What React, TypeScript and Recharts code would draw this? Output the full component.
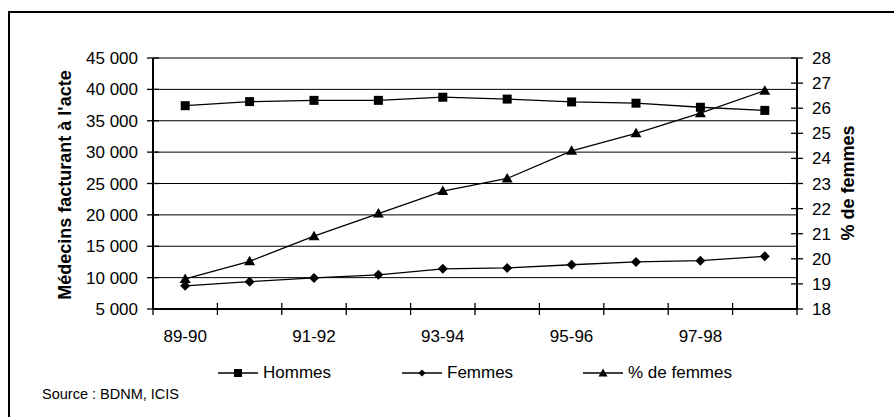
import { LineChart, Line, XAxis, YAxis, CartesianGrid } from 'recharts'

// Médecins facturant à l'acte, hommes / femmes, 1989-90 à 1998-99
const periodes = ['89-90', '90-91', '91-92', '92-93', '93-94', '94-95', '95-96', '96-97', '97-98', '98-99']
const hommes = [37400, 38050, 38250, 38250, 38750, 38450, 38000, 37800, 37150, 36650]
const femmes = [8700, 9350, 9950, 10450, 11400, 11550, 12050, 12500, 12700, 13400]
const pctFemmes = [19.2, 19.9, 20.9, 21.8, 22.7, 23.2, 24.3, 25.0, 25.8, 26.7]

const medecinsTicks = [5000, 10000, 15000, 20000, 25000, 30000, 35000, 40000, 45000]
const pctTicks = [18, 19, 20, 21, 22, 23, 24, 25, 26, 27, 28]

const data = periodes.map((p, i) => ({
  x: i + 0.5,
  periode: p,
  hommes: hommes[i],
  femmes: femmes[i],
  pct: pctFemmes[i],
}))

// ticks at category boundaries (marks) + centres of every other category (labels)
const xTicks: number[] = []
for (let i = 0; i <= periodes.length; i++) {
  xTicks.push(i)
  if (i < periodes.length && i % 2 === 0) xTicks.push(i + 0.5)
}

const FONT = '"Liberation Sans", Arial, sans-serif'
const TICK_SIZE = 6
const TICK_MARGIN = 9

const fmt = (n: number) => String(n).replace(/\B(?=(\d{3})+(?!\d))/g, ' ')

function XTick(props: any) {
  const { x, y, payload } = props
  const v = payload.value as number
  const axisY = y - TICK_SIZE
  if (Number.isInteger(v)) {
    return <line x1={x} x2={x} y1={axisY - 6} y2={axisY + 6} stroke="#000" strokeWidth={1.3} />
  }
  return (
    <text x={x} y={axisY + 33} textAnchor="middle" fontSize={17} fill="#000">
      {periodes[Math.floor(v)]}
    </text>
  )
}

function LeftTick(props: any) {
  const { x, y, payload } = props
  const ax = x + TICK_MARGIN + TICK_SIZE
  return (
    <g>
      <line x1={ax - 6} x2={ax + 6} y1={y} y2={y} stroke="#000" strokeWidth={1.3} />
      <text x={x} y={y} dy={6} textAnchor="end" fontSize={17} fill="#000">
        {fmt(payload.value)}
      </text>
    </g>
  )
}

function RightTick(props: any) {
  const { x, y, payload } = props
  const ax = x - TICK_MARGIN - TICK_SIZE
  return (
    <g>
      <line x1={ax - 6} x2={ax + 6} y1={y} y2={y} stroke="#000" strokeWidth={1.3} />
      <text x={x} y={y} dy={6} textAnchor="start" fontSize={17} fill="#000">
        {payload.value}
      </text>
    </g>
  )
}

const squareDot = (p: any) => (
  <rect key={`s${p.index}`} x={p.cx - 4.5} y={p.cy - 4.5} width={9} height={9} fill="#000" />
)
const diamondDot = (p: any) => (
  <path key={`d${p.index}`} d={`M${p.cx},${p.cy - 5}L${p.cx + 5},${p.cy}L${p.cx},${p.cy + 5}L${p.cx - 5},${p.cy}Z`} fill="#000" />
)
const triangleDot = (p: any) => (
  <path key={`t${p.index}`} d={`M${p.cx},${p.cy - 5.5}L${p.cx + 5.5},${p.cy + 4}L${p.cx - 5.5},${p.cy + 4}Z`} fill="#000" />
)

function LegendIcon({ kind }: { kind: 'square' | 'diamond' | 'triangle' }) {
  return (
    <svg width={40} height={12} style={{ display: 'block' }}>
      <line x1={0} x2={40} y1={6} y2={6} stroke="#000" strokeWidth={1.3} />
      {kind === 'square' && <rect x={16} y={2} width={8} height={8} fill="#000" />}
      {kind === 'diamond' && <path d="M20,2.5L23.5,6L20,9.5L16.5,6Z" fill="#000" />}
      {kind === 'triangle' && <path d="M20,1.5L24.5,9.5L15.5,9.5Z" fill="#000" />}
    </svg>
  )
}

const legendItems = [
  { label: 'Hommes', kind: 'square' as const, left: 218 },
  { label: 'Femmes', kind: 'diamond' as const, left: 402 },
  { label: '% de femmes', kind: 'triangle' as const, left: 583 },
]

export default function App() {
  return (
    <div style={{ position: 'fixed', left: 0, top: 0, width: 894, height: 417, fontFamily: FONT, color: '#000', background: '#fff' }}>
      {/* cadre */}
      <div
        style={{
          position: 'absolute', left: 8, top: 11, width: 886, height: 406,
          borderLeft: '2px solid #000', borderTop: '2px solid #000', boxSizing: 'border-box',
        }}
      />
      <LineChart width={894} height={417} data={data} margin={{ top: 58, right: 0, bottom: 68, left: 0 }}>
        <CartesianGrid yAxisId="left" vertical={false} stroke="#000" strokeWidth={1} />
        <XAxis
          dataKey="x"
          type="number"
          domain={[0, periodes.length]}
          ticks={xTicks}
          interval={0}
          height={40}
          axisLine={{ stroke: '#000', strokeWidth: 2 }}
          tickLine={false}
          tickSize={TICK_SIZE}
          tickMargin={0}
          tick={<XTick />}
        />
        <YAxis
          yAxisId="left"
          domain={[5000, 45000]}
          ticks={medecinsTicks}
          interval={0}
          width={153}
          axisLine={{ stroke: '#000', strokeWidth: 2 }}
          tickLine={false}
          tickSize={TICK_SIZE}
          tickMargin={TICK_MARGIN}
          tick={<LeftTick />}
        />
        <YAxis
          yAxisId="right"
          orientation="right"
          domain={[18, 28]}
          ticks={pctTicks}
          interval={0}
          width={97}
          axisLine={{ stroke: '#000', strokeWidth: 2 }}
          tickLine={false}
          tickSize={TICK_SIZE}
          tickMargin={TICK_MARGIN}
          tick={<RightTick />}
        />
        <Line yAxisId="left" dataKey="hommes" name="Hommes" stroke="#000" strokeWidth={1.3} dot={squareDot} isAnimationActive={false} />
        <Line yAxisId="left" dataKey="femmes" name="Femmes" stroke="#000" strokeWidth={1.3} dot={diamondDot} isAnimationActive={false} />
        <Line yAxisId="right" dataKey="pct" name="% de femmes" stroke="#000" strokeWidth={1.3} dot={triangleDot} isAnimationActive={false} />
      </LineChart>

      {/* titres des axes */}
      <div
        style={{
          position: 'absolute', left: 65, top: 185, transform: 'translate(-50%, -50%) rotate(-90deg)',
          whiteSpace: 'nowrap', fontWeight: 'bold', fontSize: 18,
        }}
      >
        Médecins facturant à l'acte
      </div>
      <div
        style={{
          position: 'absolute', left: 848, top: 183, transform: 'translate(-50%, -50%) rotate(-90deg)',
          whiteSpace: 'nowrap', fontWeight: 'bold', fontSize: 18,
        }}
      >
        % de femmes
      </div>

      {/* légende */}
      {legendItems.map((it) => (
        <div
          key={it.label}
          style={{ position: 'absolute', left: it.left, top: 362, height: 22, display: 'flex', alignItems: 'center', gap: 5, fontSize: 17, whiteSpace: 'nowrap' }}
        >
          <LegendIcon kind={it.kind} />
          <span>{it.label}</span>
        </div>
      ))}

      <div style={{ position: 'absolute', left: 42, top: 386, fontSize: 14.5, whiteSpace: 'nowrap' }}>
        Source : BDNM, ICIS
      </div>
    </div>
  )
}
